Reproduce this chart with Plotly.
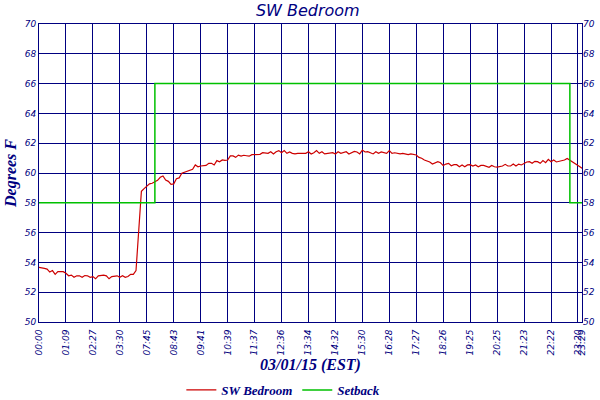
import plotly.graph_objects as go

# Sample index (one sample roughly every 3 minutes); values read every 2 samples
sample_idx = list(range(0, 404, 2)) + [403]

sw_bedroom = [
    # 0..72
    53.67, 53.65, 53.60, 53.55, 53.35, 53.45, 53.20, 53.38, 53.38, 53.38,
    53.27, 53.10, 53.15, 53.00, 53.10, 53.10, 53.00, 53.12, 53.10, 53.00,
    53.05, 52.90, 53.10, 53.15, 53.15, 53.10, 52.90, 53.05, 53.05, 53.10,
    53.00, 53.10, 53.00, 53.05, 53.20, 53.20, 53.45,
    # 74..132
    56.00, 58.77, 58.95, 59.13, 59.27, 59.31, 59.40, 59.51, 59.71, 59.80,
    59.53, 59.44, 59.24, 59.27, 59.62, 59.67, 59.98, 60.05, 60.09, 60.20,
    60.25, 60.54, 60.42, 60.47, 60.47, 60.51, 60.65, 60.65, 60.54, 60.83,
    # 134..164
    60.75, 60.88, 60.85, 60.87, 61.15, 61.15, 61.05, 61.20, 61.14, 61.19,
    61.16, 61.13, 61.23, 61.23, 61.25, 61.25,
    # 166..296
    61.36, 61.32, 61.32, 61.43, 61.28, 61.43, 61.50, 61.36, 61.50, 61.32,
    61.41, 61.32, 61.28, 61.32, 61.32, 61.36, 61.32, 61.43, 61.28, 61.36,
    61.50, 61.32, 61.43, 61.28, 61.32, 61.36, 61.36, 61.28, 61.43, 61.32,
    61.38, 61.43, 61.28, 61.36, 61.45, 61.41, 61.28, 61.54, 61.41, 61.43,
    61.36, 61.28, 61.43, 61.32, 61.41, 61.36, 61.32, 61.50, 61.32, 61.36,
    61.32, 61.28, 61.32, 61.28, 61.23, 61.28, 61.23, 61.21, 61.05, 60.99,
    60.87, 60.80, 60.74, 60.60, 60.67, 60.76,
    # 298..403
    60.69, 60.50, 60.60, 60.65, 60.49, 60.56, 60.56, 60.42, 60.54, 60.42,
    60.54, 60.56, 60.47, 60.54, 60.42, 60.51, 60.51, 60.47, 60.38, 60.51,
    60.42, 60.40, 60.42, 60.47, 60.58, 60.47, 60.47, 60.60, 60.47, 60.60,
    60.54, 60.65, 60.74, 60.76, 60.65, 60.78, 60.76, 60.65, 60.83, 60.69,
    60.92, 60.76, 60.87, 60.74, 60.78, 60.85, 60.87, 60.98, 60.87, 60.74,
    60.60, 60.50, 60.38, 60.31,
]

# Setback schedule: change points (sample index) and setpoint values
setback_idx = [0, 86, 394, 403]
setback_val = [58, 66, 58, 58]

tick_idx = list(range(0, 401, 20)) + [403]
tick_text = ["00:00", "01:09", "02:27", "03:30", "07:45", "08:43", "09:41",
             "10:39", "11:37", "12:36", "13:34", "14:32", "15:30", "16:28",
             "17:27", "18:26", "19:25", "20:25", "21:23", "22:22", "23:20",
             "23:29"]
y_ticks = list(range(50, 71, 2))

NAVY = "#000080"
tick_font = dict(family="DejaVu Sans", size=9, color=NAVY, style="italic")
lab_font = dict(family="Liberation Serif", size=16, color=NAVY,
                style="italic", weight="bold")

fig = go.Figure()
fig.add_trace(go.Scatter(x=sample_idx, y=sw_bedroom, mode="lines",
                         name="SW Bedroom",
                         line=dict(color="#cc0000", width=1.2)))
fig.add_trace(go.Scatter(x=setback_idx, y=setback_val, mode="lines",
                         name="Setback", yaxis="y2",
                         line=dict(color="#00c000", width=1.5, shape="hv")))

fig.update_layout(
    width=600, height=400,
    margin=dict(l=39, r=18, t=24, b=78, autoexpand=False),
    paper_bgcolor="white", plot_bgcolor="white",
    title=dict(text="SW Bedroom", x=0.513, xanchor="center",
               y=0.975, yanchor="middle",
               font=dict(family="DejaVu Sans", size=16, color=NAVY,
                         style="italic")),
    xaxis=dict(range=[0, 403], tickmode="array", tickvals=tick_idx,
               ticktext=tick_text, tickangle=-90, tickfont=tick_font,
               showgrid=True, gridcolor=NAVY, gridwidth=1,
               showline=True, linecolor=NAVY, linewidth=1, mirror=True,
               zeroline=False, ticks="outside", ticklen=3,
               tickcolor="rgba(0,0,0,0)", automargin=False,
               title=dict(text="03/01/15 (EST)", font=lab_font, standoff=4)),
    yaxis=dict(range=[50, 70], tickmode="array", tickvals=y_ticks,
               tickfont=tick_font, showgrid=True, gridcolor=NAVY, gridwidth=1,
               showline=True, linecolor=NAVY, linewidth=1, mirror=True,
               zeroline=False, ticks="", automargin=False,
               title=dict(text="Degrees F", font=lab_font, standoff=4)),
    yaxis2=dict(range=[50, 70], tickmode="array", tickvals=y_ticks,
                tickfont=tick_font, overlaying="y", side="right",
                showgrid=False, zeroline=False, ticks="", showline=False,
                automargin=False),
    legend=dict(orientation="h", x=0.45, xanchor="center",
                yref="container", y=0.025, yanchor="middle",
                font=dict(family="Liberation Serif", size=13, color=NAVY,
                          style="italic", weight="bold"),
                itemwidth=30, bgcolor="rgba(0,0,0,0)"),
    showlegend=True,
)

fig.write_html("out.html", config={"displayModeBar": False},
               post_script="document.body.style.margin='0';")
